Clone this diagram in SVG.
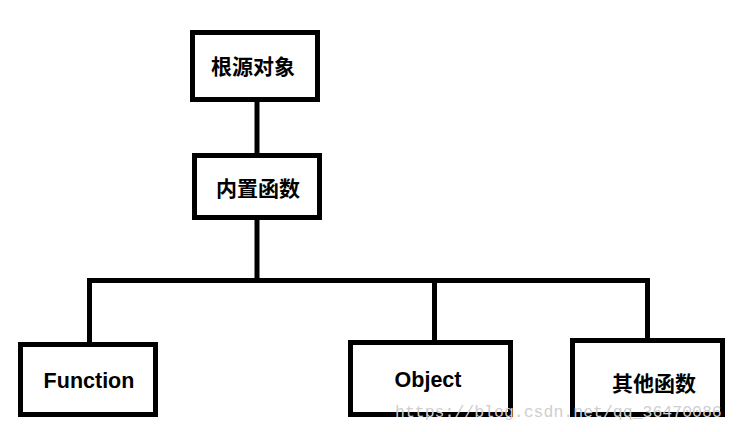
<svg xmlns="http://www.w3.org/2000/svg" width="738" height="432" viewBox="0 0 738 432">
<style>
.box{fill:#fff;stroke:#000;stroke-width:5}
.lbl{font-family:"Liberation Sans","Noto Sans CJK SC",sans-serif;font-weight:bold;font-size:21.5px;fill:#000;text-anchor:middle}
.cn{font-family:"Noto Sans CJK SC",sans-serif;font-weight:bold;font-size:21px}
.con{stroke:#000;stroke-width:5;fill:none;stroke-linecap:square}
.wm{font-family:"Liberation Mono",monospace;font-size:16.5px;fill:#cfcfcf}
</style>
<rect width="738" height="432" fill="#fff"/>
<g id="connectors">
<line class="con" x1="257" y1="102" x2="257" y2="153"/>
<line class="con" x1="257" y1="220" x2="257" y2="278"/>
<polyline class="con" points="89.5,340 89.5,280.5 647.5,280.5 647.5,338"/>
<line class="con" x1="434.5" y1="280.5" x2="434.5" y2="340"/>
</g>
<g id="root">
<rect class="box" x="192.5" y="32.5" width="125" height="67"/>
<text class="lbl cn" x="253" y="74">根源对象</text>
</g>
<g id="builtin">
<rect class="box" x="194.5" y="155.5" width="125" height="62"/>
<text class="lbl cn" x="258" y="196">内置函数</text>
</g>
<g id="function">
<rect class="box" x="20.5" y="344.5" width="135" height="70"/>
<text class="lbl" x="89" y="388">Function</text>
</g>
<g id="object">
<rect class="box" x="350.5" y="342.5" width="160" height="72"/>
<text class="lbl" x="428" y="387">Object</text>
</g>
<g id="other">
<rect class="box" x="572.5" y="340.5" width="150" height="74"/>
<text class="lbl cn" x="654" y="391">其他函数</text>
</g>
<text class="wm" x="395" y="417">https://blog.csdn.net/qq_36470086</text>
</svg>
